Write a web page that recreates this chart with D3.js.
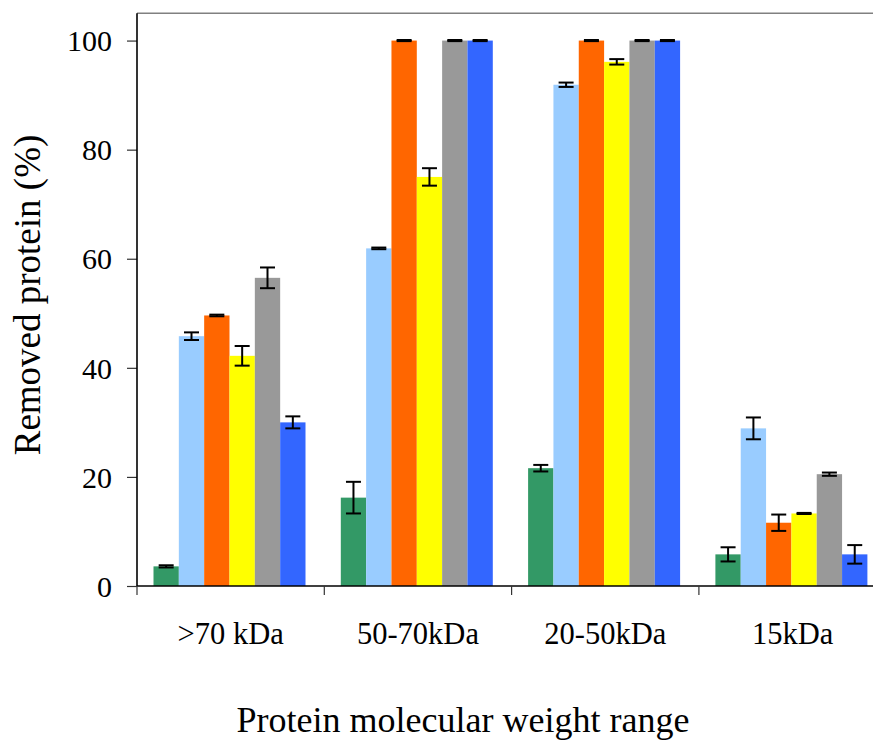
<!DOCTYPE html>
<html>
<head>
<meta charset="utf-8">
<script src="https://cdn.jsdelivr.net/npm/d3@7"></script>
<style>
  html, body { margin: 0; padding: 0; background: #fff; }
  svg { display: block; }
  text { font-family: "Liberation Serif", "DejaVu Serif", serif; fill: #000; }
</style>
</head>
<body>
<svg id="chart" width="873" height="740"></svg>
<script>
// Molecular weight ranges (x categories)
const categories = [">70 kDa", "50-70kDa", "20-50kDa", "15kDa"];
// Six treatments, one bar each per category
const seriesNames = ["s1", "s2", "s3", "s4", "s5", "s6"];
const seriesColors = ["#339966", "#99CCFF", "#FF6600", "#FFFF00", "#999999", "#3366FF"];

// Removed protein (%) per category, in series order
const values = [
  [3.6, 45.8, 49.6, 42.2, 56.5, 30.0],
  [16.2, 61.9, 100, 75.0, 100, 100],
  [21.6, 91.9, 100, 96.1, 100, 100],
  [5.8, 28.9, 11.6, 13.3, 20.5, 5.8]
];
// Error (±) for each bar
const errors = [
  [0.2, 0.7, 0.15, 1.8, 1.9, 1.1],
  [2.9, 0.15, 0.1, 1.6, 0.1, 0.1],
  [0.6, 0.4, 0.1, 0.5, 0.1, 0.1],
  [1.3, 2.0, 1.5, 0.1, 0.3, 1.7]
];
const yTicks = [0, 20, 40, 60, 80, 100];

const svg = d3.select("#chart");
const plotLeft = 137, plotTop = 13.3, plotBottom = 586, plotRight = 873;
const bandW = 187.3;

const x0 = d3.scaleBand()
  .domain(categories)
  .range([plotLeft, plotLeft + bandW * categories.length])
  .padding(0);

const x1 = d3.scaleBand()
  .domain(seriesNames)
  .range([16.5, 168.5])
  .padding(0);

const y = d3.scaleLinear().domain([0, 105]).range([plotBottom, plotTop]);

// Bars
const groups = svg.append("g")
  .selectAll("g")
  .data(categories)
  .join("g")
  .attr("transform", c => `translate(${x0(c)},0)`);

const rowData = (c, i) => seriesNames.map((s, j) => ({ s, j, v: values[i][j], e: errors[i][j] }));

groups.selectAll("rect")
  .data(rowData)
  .join("rect")
  .attr("x", d => x1(d.s))
  .attr("width", x1.bandwidth())
  .attr("y", d => y(d.v))
  .attr("height", d => y(0) - y(d.v))
  .attr("fill", d => seriesColors[d.j]);

// Error bars
const eb = groups.selectAll("g.err")
  .data(rowData)
  .join("g")
  .attr("class", "err")
  .attr("stroke", "#000")
  .attr("stroke-width", 2);

const cx = d => x1(d.s) + x1.bandwidth() / 2;
const capHalf = 7.5;
eb.append("line")
  .attr("x1", cx).attr("x2", cx)
  .attr("y1", d => y(d.v + d.e)).attr("y2", d => y(d.v - d.e));
eb.append("line")
  .attr("x1", d => cx(d) - capHalf).attr("x2", d => cx(d) + capHalf)
  .attr("y1", d => y(d.v + d.e)).attr("y2", d => y(d.v + d.e));
eb.append("line")
  .attr("x1", d => cx(d) - capHalf).attr("x2", d => cx(d) + capHalf)
  .attr("y1", d => y(d.v - d.e)).attr("y2", d => y(d.v - d.e));

// Top frame line
svg.append("line")
  .attr("x1", plotLeft).attr("x2", plotRight)
  .attr("y1", plotTop).attr("y2", plotTop)
  .attr("stroke", "#808080").attr("stroke-width", 1.5);

// Y axis
const yAxis = svg.append("g")
  .attr("transform", `translate(${plotLeft},0)`)
  .call(d3.axisLeft(y).tickValues(yTicks).tickSize(10).tickPadding(15));
yAxis.select(".domain").remove();
yAxis.selectAll(".tick line").attr("stroke", "#333").attr("stroke-width", 1.2);
yAxis.selectAll("text")
  .style("font-size", "30px")
  .attr("dy", "0.34em");
svg.append("line")
  .attr("x1", plotLeft).attr("x2", plotLeft)
  .attr("y1", plotTop).attr("y2", plotBottom)
  .attr("stroke", "#000").attr("stroke-width", 1.6);

// X axis: ticks at category boundaries
const boundaries = categories.map(c => x0(c)).concat([x0(categories[categories.length - 1]) + bandW]);
const xb = svg.append("g");
xb.append("line")
  .attr("x1", plotLeft).attr("x2", plotRight)
  .attr("y1", plotBottom).attr("y2", plotBottom)
  .attr("stroke", "#000").attr("stroke-width", 1.6);
xb.selectAll("line.tick")
  .data(boundaries)
  .join("line")
  .attr("class", "tick")
  .attr("x1", d => d).attr("x2", d => d)
  .attr("y1", plotBottom).attr("y2", plotBottom + 9)
  .attr("stroke", "#333").attr("stroke-width", 1.2);
xb.selectAll("text")
  .data(categories)
  .join("text")
  .attr("x", c => x0(c) + bandW / 2)
  .attr("y", 644)
  .attr("text-anchor", "middle")
  .style("font-size", "30.5px")
  .text(c => c);

// Axis titles
svg.append("text")
  .attr("x", 463)
  .attr("y", 732)
  .attr("text-anchor", "middle")
  .style("font-size", "36px")
  .text("Protein molecular weight range");

svg.append("text")
  .attr("transform", "translate(40,295) rotate(-90)")
  .attr("text-anchor", "middle")
  .style("font-size", "37px")
  .text("Removed protein (%)");
</script>
</body>
</html>
